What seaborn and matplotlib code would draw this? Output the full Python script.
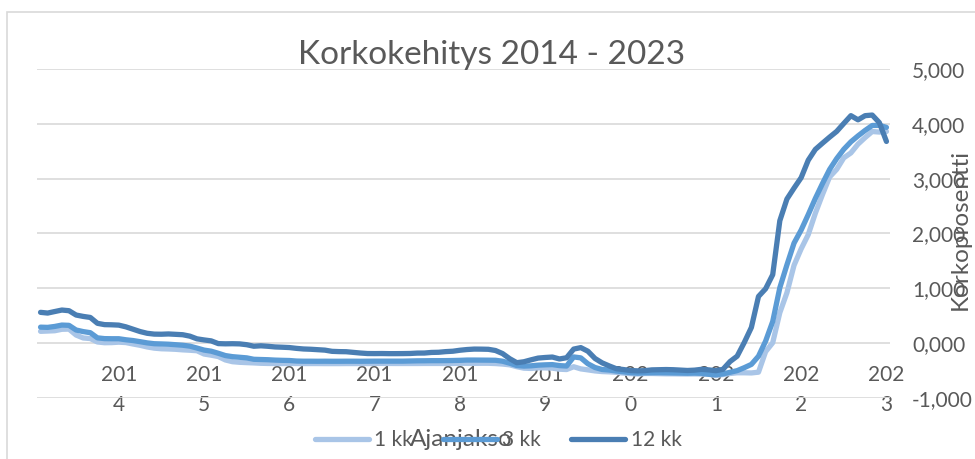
import numpy as np
import pandas as pd
import matplotlib
matplotlib.use("Agg")
import matplotlib.pyplot as plt
import matplotlib.patches as mpatches
import seaborn as sns

# ---------------- data (monthly, Jan 2014 - Dec 2023) ----------------
years = [str(y) for y in range(2014, 2024)]
tick_labels = ["201\n4", "201\n5", "201\n6", "201\n7", "201\n8",
               "201\n9", "202\n0", "202\n1", "202\n2", "202\n3"]

kk1 = [0.216, 0.221, 0.227, 0.253, 0.256, 0.148, 0.095, 0.084, 0.022, 0.008, 0.010, 0.018,
       0.011, -0.015, -0.039, -0.069, -0.091, -0.102, -0.106, -0.112, -0.122, -0.129, -0.138, -0.198,
       -0.219, -0.244, -0.306, -0.338, -0.349, -0.355, -0.360, -0.367, -0.370, -0.371, -0.372, -0.370,
       -0.371, -0.372, -0.372, -0.372, -0.373, -0.373, -0.373, -0.372, -0.372, -0.372, -0.372, -0.369,
       -0.369, -0.370, -0.371, -0.371, -0.371, -0.371, -0.370, -0.370, -0.370, -0.371, -0.370, -0.367,
       -0.367, -0.368, -0.367, -0.367, -0.372, -0.381, -0.395, -0.429, -0.456, -0.461, -0.450, -0.451,
       -0.455, -0.475, -0.481, -0.430, -0.469, -0.487, -0.506, -0.518, -0.523, -0.532, -0.546, -0.555,
       -0.562, -0.553, -0.553, -0.556, -0.559, -0.559, -0.561, -0.562, -0.561, -0.563, -0.568, -0.591,
       -0.572, -0.553, -0.540, -0.540, -0.543, -0.529, -0.155, 0.008, 0.556, 0.920, 1.420, 1.720,
       1.980, 2.370, 2.710, 3.030, 3.170, 3.380, 3.470, 3.630, 3.750, 3.860, 3.850, 3.860]

kk3 = [0.292, 0.288, 0.305, 0.330, 0.325, 0.240, 0.211, 0.191, 0.097, 0.083, 0.081, 0.081,
       0.062, 0.048, 0.027, 0.005, -0.010, -0.014, -0.019, -0.028, -0.038, -0.054, -0.089, -0.126,
       -0.146, -0.184, -0.226, -0.246, -0.257, -0.268, -0.294, -0.298, -0.302, -0.309, -0.313, -0.316,
       -0.326, -0.329, -0.329, -0.330, -0.329, -0.330, -0.330, -0.329, -0.329, -0.330, -0.329, -0.328,
       -0.328, -0.328, -0.328, -0.328, -0.325, -0.322, -0.321, -0.319, -0.319, -0.318, -0.316, -0.313,
       -0.308, -0.308, -0.309, -0.310, -0.312, -0.329, -0.365, -0.408, -0.418, -0.413, -0.401, -0.395,
       -0.391, -0.409, -0.417, -0.251, -0.268, -0.376, -0.444, -0.480, -0.490, -0.509, -0.522, -0.538,
       -0.547, -0.541, -0.539, -0.538, -0.540, -0.543, -0.545, -0.548, -0.545, -0.550, -0.567, -0.576,
       -0.560, -0.531, -0.501, -0.447, -0.387, -0.238, 0.037, 0.395, 1.011, 1.428, 1.825, 2.063,
       2.345, 2.640, 2.911, 3.167, 3.366, 3.536, 3.672, 3.780, 3.880, 3.970, 3.972, 3.935]

kk12 = [0.562, 0.549, 0.577, 0.604, 0.592, 0.513, 0.488, 0.469, 0.362, 0.338, 0.335, 0.329,
        0.298, 0.255, 0.212, 0.180, 0.165, 0.163, 0.168, 0.161, 0.154, 0.128, 0.079, 0.059,
        0.042, -0.008, -0.012, -0.010, -0.013, -0.028, -0.056, -0.048, -0.057, -0.069, -0.074, -0.080,
        -0.095, -0.106, -0.111, -0.119, -0.127, -0.149, -0.154, -0.156, -0.168, -0.180, -0.189, -0.190,
        -0.189, -0.191, -0.191, -0.190, -0.188, -0.181, -0.180, -0.169, -0.166, -0.154, -0.147, -0.129,
        -0.116, -0.108, -0.109, -0.112, -0.134, -0.190, -0.283, -0.356, -0.339, -0.304, -0.272, -0.261,
        -0.253, -0.288, -0.266, -0.108, -0.081, -0.147, -0.279, -0.359, -0.415, -0.466, -0.481, -0.499,
        -0.505, -0.501, -0.487, -0.484, -0.481, -0.484, -0.491, -0.498, -0.492, -0.477, -0.487, -0.502,
        -0.477, -0.335, -0.237, 0.013, 0.287, 0.852, 0.992, 1.249, 2.233, 2.629, 2.828, 3.018,
        3.337, 3.534, 3.647, 3.757, 3.862, 4.007, 4.149, 4.073, 4.149, 4.160, 4.022, 3.679]

series_names = ["1 kk", "3 kk", "12 kk"]
colors = ["#A9C5E7", "#5B9BD5", "#4A7EB3"]

# ---------------- build long table ----------------
n = len(kk1)
df = pd.DataFrame({
    "idx": np.tile(np.arange(n), 3),
    "rate": kk1 + kk3 + kk12,
    "series": np.repeat(series_names, n),
})

sns.set_theme(style="white")
plt.rcParams["font.family"] = ["Lato", "DejaVu Sans"]
text_color = "#595959"
fs_tick = 15
fs_axis = 17.5

fig = plt.figure(figsize=(9.75, 4.59), dpi=100)
ax = fig.add_axes([37 / 975, 1 - 398 / 459, 853 / 975, 329 / 459])

sns.lineplot(data=df, x="idx", y="rate", hue="series", hue_order=series_names,
             palette=dict(zip(series_names, colors)), linewidth=3.8,
             ax=ax, legend=False)
for ln in ax.lines:
    ln.set_solid_capstyle("round")
    ln.set_solid_joinstyle("round")

ax.set_xlim(-0.5, n - 0.5)
ax.set_ylim(-1, 5)

# grid
ax.set_yticks([-1, 0, 1, 2, 3, 4, 5])
ax.yaxis.grid(True, color="#D9D9D9", linewidth=1.2)
ax.xaxis.grid(False)
ax.set_axisbelow(True)
for s in ax.spines.values():
    s.set_visible(False)

# y axis on right
ax.yaxis.tick_right()
ax.set_yticklabels([f"{v:.3f}".replace(".", ",") for v in [-1, 0, 1, 2, 3, 4, 5]])
ax.tick_params(axis="y", length=0, pad=16, labelsize=fs_tick, labelcolor=text_color)

# x axis crossing at 0
ax.spines["bottom"].set_position(("data", 0))
ax.set_xticks([11 + 12 * i for i in range(len(years))])
ax.set_xticklabels(tick_labels, linespacing=1.6)
ax.tick_params(axis="x", length=0, pad=16, labelsize=fs_tick, labelcolor=text_color)

# axis titles
ax.set_xlabel("Ajanjakso", fontsize=fs_axis, color=text_color, va="center")
ax.xaxis.set_label_coords((461 - 37) / 853, (398 - 440) / 329)
ax.yaxis.set_label_position("right")
ax.set_ylabel("Korkoprosentti", fontsize=fs_axis, color=text_color, rotation=90, va="center")
ax.yaxis.set_label_coords((960 - 37) / 853, (398 - 229) / 329)

# title
fig.text(492 / 975, 1 - 55 / 459, "Korkokehitys 2014 - 2023", fontsize=24,
         color=text_color, ha="center", va="center")

# legend
handles = [plt.Line2D([], [], color=c, lw=3.8, solid_capstyle="round") for c in colors]
fig.legend(handles, series_names, loc="center", bbox_to_anchor=(498 / 975, 1 - 440 / 459),
           ncol=3, frameon=False, fontsize=fs_tick, handlelength=2.6, handletextpad=0.25,
           columnspacing=1.45, labelcolor=text_color)

# chart border (top/left visible)
fig.patches.append(mpatches.Rectangle((7 / 975, -0.2), 1.5, 1.2 - 12 / 459,
                                      transform=fig.transFigure, fill=False,
                                      edgecolor="#D9D9D9", linewidth=1.2))

fig.savefig("out.png", dpi=100)
